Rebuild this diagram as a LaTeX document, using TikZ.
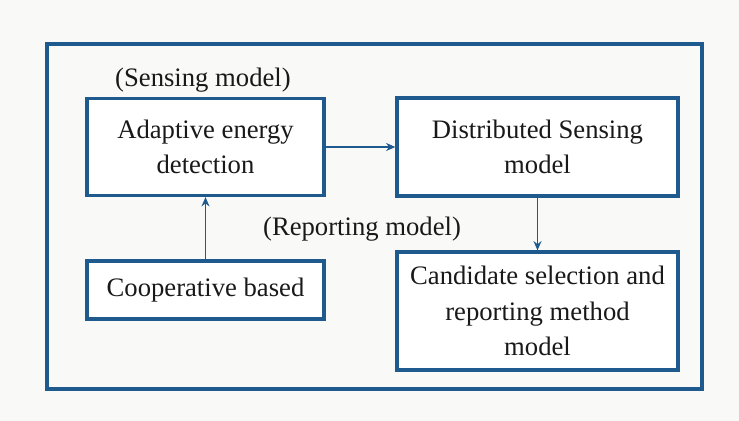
\documentclass[tikz,border=0pt]{standalone}
\usepackage{fontspec}
\setmainfont{Liberation Serif}
\usetikzlibrary{arrows.meta}
\definecolor{frameblue}{HTML}{1E5A8E}
\definecolor{paper}{HTML}{F9F9F8}
\begin{document}
\begin{tikzpicture}[x=0.75pt,y=-0.75pt,
  blockbox/.style={draw=frameblue,line width=2.4pt,fill=white,align=center,
    inner sep=0pt,font=\fontsize{20}{26.5}\selectfont,text=black!90},
  link/.style={draw=frameblue,line width=1.1pt,-{Stealth[length=7pt,width=6pt]}},
  tag/.style={font=\fontsize{20}{24}\selectfont,text=black!90,inner sep=0pt}]
  % page
  \fill[paper] (0,0) rectangle (739,421);
  \useasboundingbox (0,0) rectangle (739,421);
  % outer frame
  \draw[frameblue,line width=2.4pt] (47,44) rectangle (702,389);
  % blocks
  \node[blockbox,minimum width=177.75pt,minimum height=72.75pt] (adapt) at (205.5,147) {Adaptive energy\\detection};
  \node[blockbox,minimum width=210.75pt,minimum height=73.5pt] (distrib) at (537.5,147) {Distributed Sensing\\model};
  \node[blockbox,minimum width=177.75pt,minimum height=43.5pt] (coop) at (205.5,290) {Cooperative based};
  \node[blockbox,minimum width=210.75pt,minimum height=88.5pt] (cand) at (537.5,311) {Candidate selection and\\reporting method\\model};
  % labels
  \node[tag] (senslbl) at (203,80) {(Sensing model)};
  \node[tag] (replbl) at (362,229) {(Reporting model)};
  % connectors
  \draw[link] (adapt.east) -- (distrib.west);
  \draw[link] (distrib.south) -- (cand.north);
  \draw[link] (coop.north) -- (adapt.south);
\end{tikzpicture}
\end{document}
